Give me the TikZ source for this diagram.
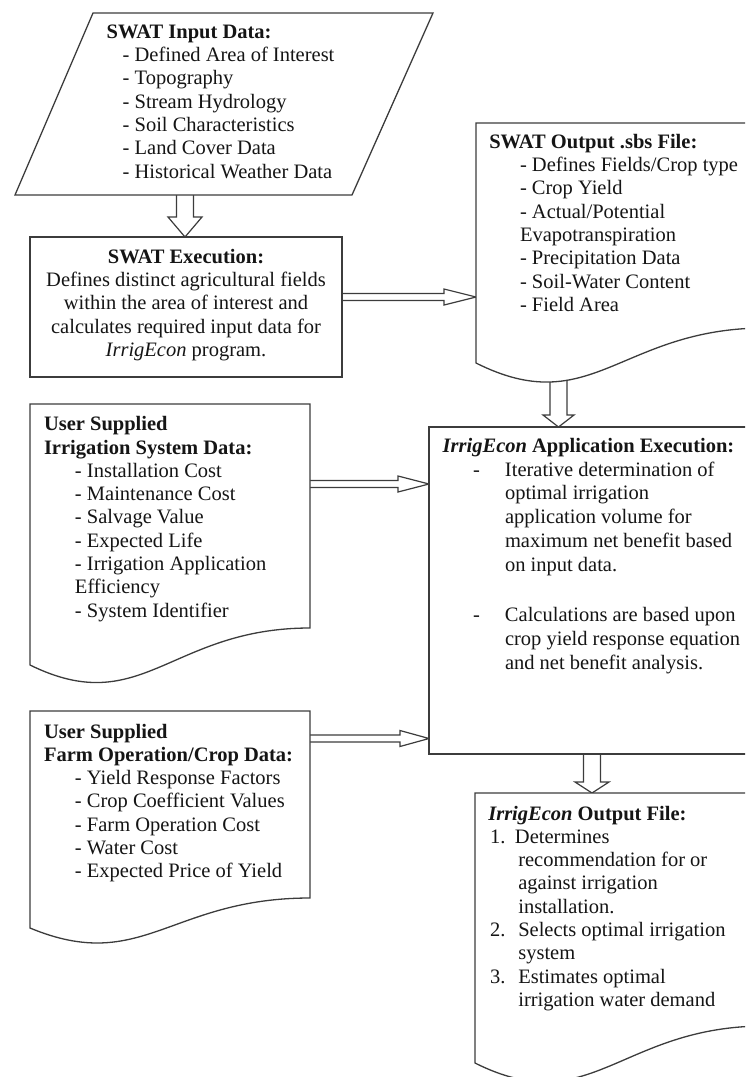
\documentclass[tikz,border=0pt]{standalone}
\usepackage{fontspec}
\setmainfont{Liberation Serif}
\usetikzlibrary{calc}
\pgfdeclarelayer{bg}
\pgfsetlayers{bg,main}
\definecolor{lc}{HTML}{3C3C3C}
\definecolor{tc}{HTML}{151515}
\tikzset{
  outline/.style={draw=lc, line width=1.3pt, fill=white, line join=miter},
  ghost/.style={rectangle, inner sep=0pt, outer sep=0pt, anchor=north west},
  box/.style={ghost, outline},
  txt/.style={inner sep=0pt, outer sep=0pt, anchor=base west, align=left, text=tc,
    font=\fontsize{20.5}{23.3}\selectfont},
  ctxt/.style={txt, anchor=base, align=center},
  bigarr/.style={draw=lc, line width=1.2pt, fill=white, line join=miter},
}
\newcommand\varrowto[5]{\draw[bigarr] let \p1=(#1), \p2=(#2) in
  (\x2-#3,\y1) -- (\x2-#3,\y2+#5) -- (\x2-#4,\y2+#5) -- (\x2,\y2) --
  (\x2+#4,\y2+#5) -- (\x2+#3,\y2+#5) -- (\x2+#3,\y1);}
\newcommand\harrowto[5]{\draw[bigarr] let \p1=(#1), \p2=(#2) in
  (\x1,\y2+#3) -- (\x2-#5,\y2+#3) -- (\x2-#5,\y2+#4) -- (\x2,\y2) --
  (\x2-#5,\y2-#4) -- (\x2-#5,\y2-#3) -- (\x1,\y2-#3);}
\begin{document}
\begin{tikzpicture}[x=1pt,y=-1pt]
\useasboundingbox (0,0) rectangle (745,1077);
\clip (0,0) rectangle (745,1077);

% ---------- shapes ----------
\node[ghost, minimum width=418pt, minimum height=182pt] (input) at (15,13) {};
\draw[outline] (93,13) -- (433,13) -- (352,195) -- (15,195) -- cycle;

\node[box, minimum width=312pt, minimum height=140pt] (exec) at (30,237) {};

\node[ghost, minimum width=289pt, minimum height=240pt] (sbs) at (476,123) {};
\draw[outline] (sbs.south west) -- (sbs.north west) -- (sbs.north east) -- (765,328)
  .. controls (620.5,328) and (591.6,421) .. (sbs.south west) -- cycle;

\node[ghost, minimum width=280pt, minimum height=261pt] (irr) at (30,404) {};
\draw[outline] (irr.south west) -- (irr.north west) -- (irr.north east) -- (310,628)
  .. controls (170,628) and (142,720) .. (irr.south west) -- cycle;

\node[box, minimum width=336pt, minimum height=327pt] (app) at (429,427) {};

\node[ghost, minimum width=280pt, minimum height=217pt] (farm) at (30,711) {};
\draw[outline] (farm.south west) -- (farm.north west) -- (farm.north east) -- (310,898)
  .. controls (170,898) and (142,974.5) .. (farm.south west) -- cycle;

\node[ghost, minimum width=290pt, minimum height=270pt] (out) at (475,793) {};
\draw[outline] (out.south west) -- (out.north west) -- (out.north east) -- (765,1026)
  .. controls (620,1026) and (591,1121) .. (out.south west) -- cycle;

% ---------- arrow end points ----------
\coordinate (t1) at ([xshift=-1pt]exec.north);
\coordinate (t2) at ([yshift=-174pt]sbs.north west);
\coordinate (t3) at ([xshift=129.5pt]app.north west);
\coordinate (t4) at ([yshift=-57pt]app.north west);
\coordinate (t5) at ([yshift=-311.5pt]app.north west);
\coordinate (t6) at ([xshift=117pt]out.north west);

% ---------- arrows (behind the shapes) ----------
\begin{pgfonlayer}{bg}
\varrowto{input.center}{t1}{8.5pt}{17pt}{20pt}
\harrowto{exec.center}{t2}{3.5pt}{8pt}{32pt}
\varrowto{sbs.center}{t3}{8.5pt}{15.5pt}{12pt}
\harrowto{irr.center}{t4}{3.5pt}{8pt}{31pt}
\harrowto{farm.center}{t5}{3.5pt}{8pt}{29pt}
\varrowto{app.center}{t6}{8.5pt}{17pt}{11pt}
\end{pgfonlayer}

% ---------- texts (anchored at the baseline of the last line) ----------
\node[txt] (inputtxt) at (106.7,178.1) {\textbf{SWAT Input Data:}\\
\hspace*{16pt}- Defined Area of Interest\\
\hspace*{16pt}- Topography\\
\hspace*{16pt}- Stream Hydrology\\
\hspace*{16pt}- Soil Characteristics\\
\hspace*{16pt}- Land Cover Data\\
\hspace*{16pt}- Historical Weather Data};

\node[ctxt] (exectxt) at (186,356.5) {\textbf{SWAT Execution:}\\
Defines distinct agricultural fields\\
within the area of interest and\\
calculates required input data for\\
\textit{IrrigEcon} program.};

\node[txt] (sbstxt) at (489.3,311.4) {\textbf{SWAT Output .sbs File:}\\
\hspace*{30.7pt}- Defines Fields/Crop type\\
\hspace*{30.7pt}- Crop Yield\\
\hspace*{30.7pt}- Actual/Potential\\
\hspace*{30.7pt}Evapotranspiration\\
\hspace*{30.7pt}- Precipitation Data\\
\hspace*{30.7pt}- Soil-Water Content\\
\hspace*{30.7pt}- Field Area};

\node[txt] (irrtxt) at (44,617.1) {\textbf{User Supplied}\\
\textbf{Irrigation System Data:}\\
\hspace*{31pt}- Installation Cost\\
\hspace*{31pt}- Maintenance Cost\\
\hspace*{31pt}- Salvage Value\\
\hspace*{31pt}- Expected Life\\
\hspace*{31pt}- Irrigation Application\\
\hspace*{31pt}Efficiency\\
\hspace*{31pt}- System Identifier};

\node[txt, font=\fontsize{20.5}{23.8}\selectfont] (apptxt) at (442.7,669.3) {\textbf{\textit{IrrigEcon} Application Execution:}\\
\hspace*{30.3pt}\makebox[32pt][l]{-}Iterative determination of\\
\hspace*{62.3pt}optimal irrigation\\
\hspace*{62.3pt}application volume for\\
\hspace*{62.3pt}maximum net benefit based\\
\hspace*{62.3pt}on input data.\\[26.6pt]
\hspace*{30.3pt}\makebox[32pt][l]{-}Calculations are based upon\\
\hspace*{62.3pt}crop yield response equation\\
\hspace*{62.3pt}and net benefit analysis.};

\node[txt] (farmtxt) at (44,877.8) {\textbf{User Supplied}\\
\textbf{Farm Operation/Crop Data:}\\
\hspace*{31pt}- Yield Response Factors\\
\hspace*{31pt}- Crop Coefficient Values\\
\hspace*{31pt}- Farm Operation Cost\\
\hspace*{31pt}- Water Cost\\
\hspace*{31pt}- Expected Price of Yield};

\node[txt] (outtxt) at (488.3,1006.4) {\textbf{\textit{IrrigEcon} Output File:}\\
\hspace*{1.7pt}\makebox[25pt][l]{1.}Determines\\
\hspace*{30pt}recommendation for or\\
\hspace*{30pt}against irrigation\\
\hspace*{30pt}installation.\\
\hspace*{1.7pt}\makebox[28.3pt][l]{2.}Selects optimal irrigation\\
\hspace*{30pt}system\\
\hspace*{1.7pt}\makebox[28.3pt][l]{3.}Estimates optimal\\
\hspace*{30pt}irrigation water demand};
\end{tikzpicture}
\end{document}
